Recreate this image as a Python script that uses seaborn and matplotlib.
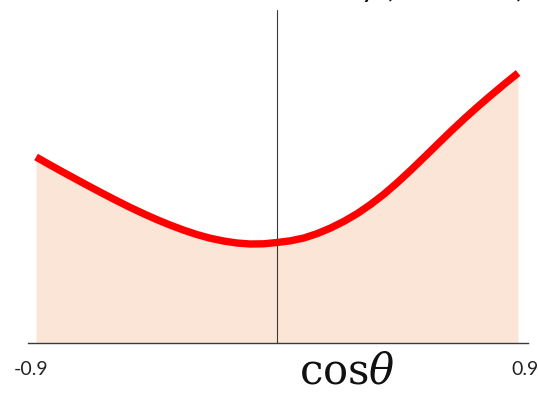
import numpy as np
import pandas as pd
import matplotlib
matplotlib.use("Agg")
import matplotlib.pyplot as plt
import matplotlib.transforms as mtransforms
import seaborn as sns

# Angular distribution, read at cos(theta) steps of 0.05
cos_theta = [-0.9, -0.85, -0.8, -0.75, -0.7, -0.65, -0.6, -0.55, -0.5, -0.45,
             -0.4, -0.35, -0.3, -0.25, -0.2, -0.15, -0.1, -0.05, 0.0, 0.05,
             0.1, 0.15, 0.2, 0.25, 0.3, 0.35, 0.4, 0.45, 0.5, 0.55,
             0.6, 0.65, 0.7, 0.75, 0.8, 0.85, 0.9]
intensity = [186.0, 178.4, 171.0, 163.7, 156.5, 149.4, 142.5, 135.8, 129.5, 123.5,
             118.0, 113.0, 108.5, 104.8, 102.0, 100.0, 99.0, 99.2, 100.5, 102.2,
             105.0, 109.4, 115.0, 121.7, 129.5, 138.7, 149.0, 160.6, 173.0, 185.9,
             199.0, 212.0, 224.5, 236.5, 248.0, 259.2, 270.0]
x_ticks = [-0.9, 0.9]
x_tick_labels = ["-0.9", "0.9"]

sns.set_style("white")
plt.rcParams["font.family"] = ["Lato", "DejaVu Sans"]

df = pd.DataFrame({"cos": cos_theta, "I": intensity})

fig = plt.figure(figsize=(5.38, 3.94), dpi=100)
ax = fig.add_axes([28 / 538, 1 - 343 / 394, 500 / 538, 333 / 394])

ax.fill_between(df["cos"], 0, df["I"], color="#FBE5D6", lw=0, zorder=1)
ax.axvline(0, color="#3a3a3a", lw=0.8, zorder=2)
sns.lineplot(data=df, x="cos", y="I", ax=ax, color="#FF0000", lw=5.3,
             solid_capstyle="butt", zorder=3)

ax.set_xlim(-0.930, 0.937)
ax.set_ylim(0, 333)
for side in ("top", "right", "left"):
    ax.spines[side].set_visible(False)
ax.spines["bottom"].set_color("#3a3a3a")
ax.spines["bottom"].set_linewidth(1.0)
ax.set_yticks([])
ax.set_xticks(x_ticks, x_tick_labels)
ax.tick_params(axis="x", length=0, pad=13, labelsize=14, labelcolor="#222222")
ax.set_xlabel("")
ax.set_ylabel("")

# push the end labels slightly outward, toward the ends of the axis line
for lab, dx in zip(ax.get_xticklabels(), (-5, 7)):
    lab.set_transform(lab.get_transform()
                      + mtransforms.ScaledTranslation(dx / 100, 0, fig.dpi_scale_trans))

fig.text(347 / 538, 1 / 394, r"cos$\theta$", ha="center", va="bottom",
         fontsize=30, family="DejaVu Serif", color="#111111",
         math_fontfamily="dejavuserif")
fig.text(524 / 538, 1 + 3 / 394, "Intensity (arb. units)", ha="right",
         va="baseline", fontsize=22, color="#111111")

fig.savefig("out.png", dpi=100)
